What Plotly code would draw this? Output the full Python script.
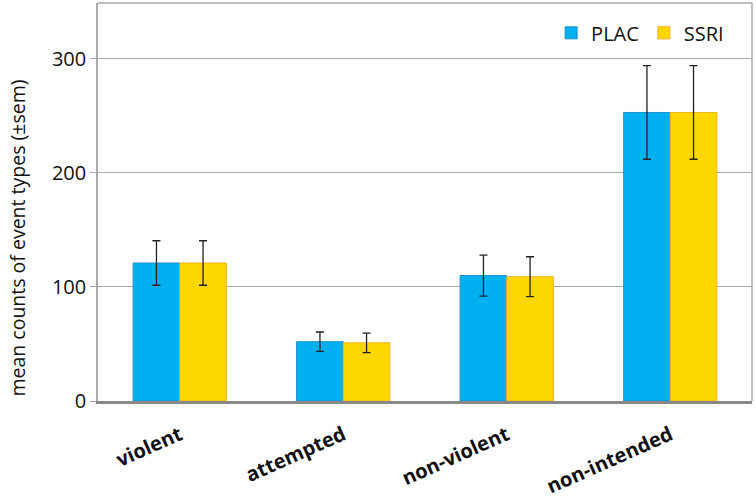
import plotly.graph_objects as go

categories = ["violent", "attempted", "non-violent", "non-intended"]
plac_mean = [121, 52, 110, 253]
plac_sem = [19.5, 8.5, 18, 41]
ssri_mean = [121, 51, 109, 253]
ssri_sem = [19.5, 8.5, 17.5, 41]

fig = go.Figure()
fig.add_trace(go.Bar(
    name="PLAC", x=categories, y=plac_mean,
    error_y=dict(type="data", array=plac_sem, color="#222222", thickness=1.3, width=4),
    marker=dict(color="#00B0F0", line=dict(color="#1E8FC8", width=1)),
))
fig.add_trace(go.Bar(
    name="SSRI", x=categories, y=ssri_mean,
    error_y=dict(type="data", array=ssri_sem, color="#222222", thickness=1.3, width=4),
    marker=dict(color="#FFD700", line=dict(color="#F5B020", width=1)),
))

fig.update_layout(
    width=756, height=502,
    margin=dict(l=98, r=4, t=3, b=101),
    paper_bgcolor="white", plot_bgcolor="white",
    barmode="group", bargap=0.43, bargroupgap=0,
    font=dict(family="Open Sans", color="#111111"),
    showlegend=True,
    legend=dict(orientation="h", x=0.965, y=0.925, xanchor="right", yanchor="middle",
                font=dict(size=20), itemwidth=30, bgcolor="rgba(0,0,0,0)"),
    xaxis=dict(
        automargin=False,
        showline=True, linecolor="#888888", linewidth=2.5,
        tickangle=-24, tickfont=dict(size=20, family="Open Sans", weight="bold"),
        ticks="", ticklabelstandoff=12,
    ),
    yaxis=dict(
        automargin=False,
        range=[0, 349], tickvals=[0, 100, 200, 300],
        showgrid=True, gridcolor="#AAAAAA", gridwidth=1.3,
        showline=True, linecolor="#AAAAAA", linewidth=1.5,
        ticks="outside", ticklen=6, tickcolor="#AAAAAA",
        tickfont=dict(size=20),
        zeroline=False,
    ),
)
# y-axis title, sits a bit below the plot centre like the original
fig.add_annotation(text="mean counts of event types (±sem)", textangle=-90,
                   xref="paper", yref="paper", x=-0.119, y=0.435,
                   xshift=-18, yshift=-10,
                   showarrow=False, font=dict(size=19.5))
# right and top frame lines
fig.add_shape(type="line", xref="paper", yref="paper", x0=1, x1=1, y0=0, y1=1,
              line=dict(color="#AAAAAA", width=1.5))
fig.add_shape(type="line", xref="paper", yref="paper", x0=0, x1=1, y0=1, y1=1,
              line=dict(color="#AAAAAA", width=1.5))

fig.write_html("out.html", config={"displayModeBar": False},
               post_script="document.body.style.margin='0';")
